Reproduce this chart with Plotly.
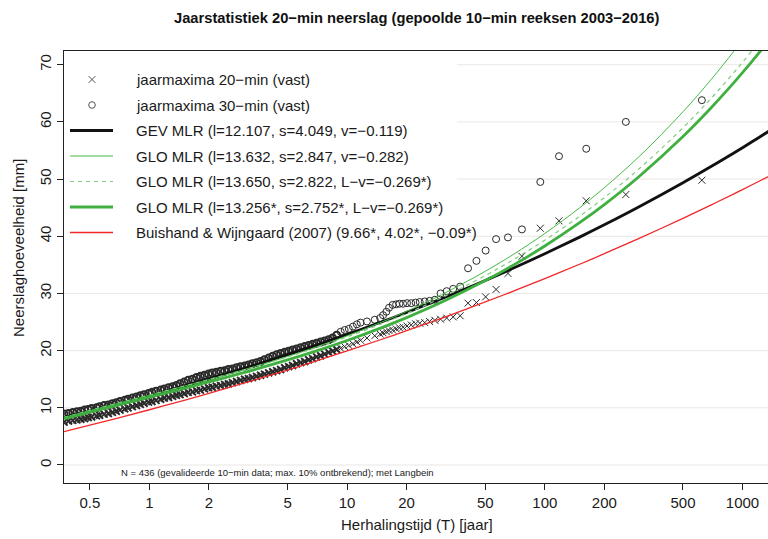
import plotly.graph_objects as go

# ---------------- data ----------------
# return periods (years) of the plotted annual maxima (shared by both series)
T_pts = [0.37, 0.39, 0.41, 0.43, 0.45, 0.47, 0.49, 0.51, 0.54, 0.56,
         0.59, 0.62, 0.65, 0.68, 0.71, 0.75, 0.78, 0.82, 0.86, 0.90,
         0.94, 0.99, 1.03, 1.08, 1.14, 1.19, 1.25, 1.31, 1.37, 1.43,
         1.50, 1.57, 1.65, 1.73, 1.81, 1.90, 1.99, 2.08, 2.18, 2.29,
         2.40, 2.51, 2.63, 2.76, 2.89, 3.03, 3.17, 3.32, 3.48, 3.65,
         3.82, 4.01, 4.20, 4.40, 4.61, 4.83, 5.06, 5.30, 5.55, 5.82,
         6.10, 6.39, 6.69, 7.01, 7.35, 7.70, 8.07, 8.45, 8.86, 9.28,
         9.72, 10.2, 10.7, 11.2, 11.7,
         12.6, 13.8, 14.7, 15.2, 15.8, 16.3, 17.0, 17.7, 18.4, 19.2,
         20.1, 21.1, 22.2, 23.3, 24.7, 26.1, 27.8, 29.7, 31.9, 34.4,
         37.3, 40.9, 45.1, 50.2, 56.7, 65.1, 76.6, 94.9, 118, 162,
         257, 623]

y20 = [7.5, 7.7, 7.8, 7.9, 8.0, 8.1, 8.3, 8.4, 8.6, 8.7,
       8.9, 9.0, 9.2, 9.4, 9.6, 9.8, 10.0, 10.2, 10.4, 10.6,
       10.8, 11.0, 11.1, 11.3, 11.5, 11.7, 11.8, 12.0, 12.2, 12.3,
       12.5, 12.7, 12.8, 13.0, 13.1, 13.3, 13.5, 13.6, 13.8, 13.9,
       14.1, 14.2, 14.4, 14.6, 14.8, 15.0, 15.1, 15.3, 15.5, 15.7,
       15.9, 16.1, 16.3, 16.5, 16.7, 17.0, 17.2, 17.4, 17.7, 17.9,
       18.1, 18.4, 18.6, 18.9, 19.1, 19.4, 19.7, 19.9, 20.2, 20.4,
       20.7, 20.9, 21.2, 21.5, 21.8,
       22.2, 22.6, 22.9, 23.1, 23.3, 23.5, 23.6, 23.8, 24.0, 24.1,
       24.3, 24.5, 24.7, 24.8, 24.9, 25.1, 25.3, 25.5, 25.7, 25.9,
       26.1, 28.3, 28.4, 29.4, 30.7, 33.5, 36.5, 41.4, 42.7, 46.2,
       47.3, 49.8]

y30 = [8.9, 9.0, 9.2, 9.3, 9.4, 9.6, 9.7, 9.9, 10.0, 10.2,
       10.4, 10.5, 10.7, 10.9, 11.1, 11.3, 11.5, 11.7, 11.9, 12.1,
       12.3, 12.5, 12.7, 12.9, 13.1, 13.3, 13.5, 13.7, 13.9, 14.2,
       14.5, 14.8, 15.0, 15.3, 15.5, 15.7, 15.9, 16.1, 16.2, 16.4,
       16.5, 16.7, 16.8, 17.0, 17.2, 17.3, 17.5, 17.7, 17.9, 18.1,
       18.4, 18.7, 19.0, 19.3, 19.5, 19.7, 19.9, 20.1, 20.3, 20.5,
       20.7, 20.9, 21.1, 21.3, 21.5, 21.7, 21.9, 22.2, 22.7, 23.3,
       23.6, 23.8, 24.2, 24.6, 24.9,
       25.1, 25.4, 25.7, 26.2, 26.8, 27.5, 28.0, 28.1, 28.2, 28.2,
       28.3, 28.3, 28.4, 28.5, 28.6, 28.7, 28.9, 30.0, 30.4, 30.8,
       31.2, 34.4, 35.7, 37.5, 39.5, 39.8, 41.2, 49.5, 54.0, 55.3,
       60.0, 63.8]

# fitted curves, read at these return periods
T_curve = [0.37, 0.5, 0.7, 1, 1.5, 2, 3, 5, 7, 10, 15, 20, 30, 50, 70,
           100, 150, 200, 300, 500, 700, 900, 1000, 1200, 1400]
gev  = [8.31, 9.41, 10.69, 12.11, 13.79, 15.03, 16.86, 19.29, 20.97, 22.83, 25.04, 26.68, 29.08, 32.27, 34.49,
        36.94, 39.85, 42.00, 45.16, 49.36, 52.28, 54.53, 55.49, 57.19, 58.66]
glo1 = [8.34, 9.52, 10.83, 12.20, 13.79, 14.94, 16.65, 18.98, 20.66, 22.59, 25.00, 26.87, 29.76, 33.88, 36.92,
        40.48, 44.97, 48.49, 53.94, 61.77, 67.57, 72.27, 74.35, 78.08, 81.39]
glo2 = [8.33, 9.53, 10.85, 12.23, 13.80, 14.95, 16.62, 18.90, 20.53, 22.39, 24.70, 26.49, 29.23, 33.13, 35.99,
        39.32, 43.50, 46.76, 51.80, 58.97, 64.26, 68.54, 70.42, 73.80, 76.80]
glo3 = [8.06, 9.24, 10.52, 11.87, 13.40, 14.52, 16.15, 18.37, 19.96, 21.78, 24.03, 25.77, 28.45, 32.25, 35.04,
        38.29, 42.37, 45.54, 50.46, 57.45, 62.61, 66.78, 68.61, 71.91, 74.83]
bw   = [5.84, 6.96, 8.25, 9.66, 11.32, 12.53, 14.30, 16.61, 18.20, 19.95, 21.99, 23.48, 25.65, 28.51, 30.46,
        32.60, 35.11, 36.95, 39.63, 43.14, 45.54, 47.38, 48.17, 49.54, 50.72]

x_tickvals = [0.5, 1, 2, 5, 10, 20, 50, 100, 200, 500, 1000]
x_ticktext = ["0.5", "1", "2", "5", "10", "20", "50", "100", "200", "500", "1000"]
y_tickvals = [0, 10, 20, 30, 40, 50, 60, 70]

legend_labels = [
    "jaarmaxima 20\u2212min (vast)",
    "jaarmaxima 30\u2212min (vast)",
    "GEV MLR (l=12.107, s=4.049, v=\u22120.119)",
    "GLO MLR (l=13.632, s=2.847, v=\u22120.282)",
    "GLO MLR (l=13.650, s=2.822, L\u2212v=\u22120.269*)",
    "GLO MLR (l=13.256*, s=2.752*, L\u2212v=\u22120.269*)",
    "Buishand & Wijngaard (2007) (9.66*, 4.02*, \u22120.09*)",
]

# ---------------- style ----------------
FONT = "Liberation Sans, Arial, Helvetica, sans-serif"
BLACK = "#111111"
PT = "#2a2a2a"
GREEN = "#3fb03f"
GREEN_T = "#44bb44"
GREEN_D = "#7fcc7f"
RED = "#f0282a"
GRID = "#ebe7e4"
DASH = "4px,4px"

W, H = 768, 539
L, R, TOP, BOT = 64, 0, 51, 56
PW, PH = W - L - R, H - TOP - BOT


def px(xp):
    return (xp - L) / PW


def py(yp):
    return (H - BOT - yp) / PH


# heavier strokes where the points are packed densely (style only)
lw20 = [1.9 if t < 9 else 1.0 for t in T_pts]
lw30 = [2.0 if t < 9 else 1.0 for t in T_pts]

fig = go.Figure()

# points
fig.add_trace(go.Scatter(x=T_pts, y=y20, mode="markers", showlegend=False,
                         marker=dict(symbol="x-thin-open", size=7, color=PT,
                                     line=dict(width=lw20, color=PT))))
fig.add_trace(go.Scatter(x=T_pts, y=y30, mode="markers", showlegend=False,
                         marker=dict(symbol="circle-open", size=7, color=PT,
                                     line=dict(width=lw30, color=PT))))
# curves
fig.add_trace(go.Scatter(x=T_curve, y=gev, mode="lines", showlegend=False, line_shape="spline",
                         line=dict(color=BLACK, width=2.8)))
fig.add_trace(go.Scatter(x=T_curve, y=glo1, mode="lines", showlegend=False, line_shape="spline",
                         line=dict(color=GREEN_T, width=1)))
fig.add_trace(go.Scatter(x=T_curve, y=glo2, mode="lines", showlegend=False, line_shape="spline",
                         line=dict(color=GREEN_D, width=1.2, dash=DASH)))
fig.add_trace(go.Scatter(x=T_curve, y=glo3, mode="lines", showlegend=False, line_shape="spline",
                         line=dict(color=GREEN, width=2.8)))
fig.add_trace(go.Scatter(x=T_curve, y=bw, mode="lines", showlegend=False, line_shape="spline",
                         line=dict(color=RED, width=1.3)))

shapes = []
# faint horizontal grid (not behind the legend block)
for gv in y_tickvals:
    x0 = 0 if gv <= 30 else px(457)
    shapes.append(dict(type="line", xref="paper", yref="y", x0=x0, x1=1, y0=gv, y1=gv,
                       line=dict(color=GRID, width=1), layer="below"))

# ---------------- hand-drawn legend ----------------
rows = [79.5, 105, 130.5, 156, 181.5, 207, 232.5]
cx = 92
shapes.append(dict(type="line", xref="paper", yref="paper", x0=px(cx - 3.3), x1=px(cx + 3.3),
                   y0=py(rows[0] - 3.3), y1=py(rows[0] + 3.3), line=dict(color="#555", width=1)))
shapes.append(dict(type="line", xref="paper", yref="paper", x0=px(cx - 3.3), x1=px(cx + 3.3),
                   y0=py(rows[0] + 3.3), y1=py(rows[0] - 3.3), line=dict(color="#555", width=1)))
shapes.append(dict(type="circle", xref="paper", yref="paper", x0=px(cx - 3.3), x1=px(cx + 3.3),
                   y0=py(rows[1] - 3.3), y1=py(rows[1] + 3.3), line=dict(color="#555", width=1)))
samples = [(BLACK, 2.8, "solid"), (GREEN_T, 1, "solid"), (GREEN_D, 1.2, DASH),
           (GREEN, 2.8, "solid"), (RED, 1.3, "solid")]
for (c, w, d), r in zip(samples, rows[2:]):
    shapes.append(dict(type="line", xref="paper", yref="paper", x0=px(70), x1=px(113),
                       y0=py(r), y1=py(r), line=dict(color=c, width=w, dash=d)))

annotations = []
for lab, r in zip(legend_labels, rows):
    annotations.append(dict(x=px(134), y=py(r), xref="paper", yref="paper", text=lab,
                            showarrow=False, xanchor="left", yanchor="middle",
                            font=dict(family=FONT, size=15, color="#1a1a1a")))

annotations += [
    dict(x=px(416), y=py(18), xref="paper", yref="paper",
         text="<b>Jaarstatistiek 20\u2212min neerslag (gepoolde 10\u2212min reeksen 2003\u22122016)</b>",
         showarrow=False, xanchor="center", yanchor="middle",
         font=dict(family=FONT, size=14.7, color="#111111")),
    dict(x=px(417), y=py(524), xref="paper", yref="paper", text="Herhalingstijd (T) [jaar]",
         showarrow=False, xanchor="center", yanchor="middle",
         font=dict(family=FONT, size=15, color="#1a1a1a")),
    dict(x=px(18), y=py(248), xref="paper", yref="paper", text="Neerslaghoeveelheid [mm]",
         showarrow=False, xanchor="center", yanchor="middle", textangle=-90,
         font=dict(family=FONT, size=15, color="#1a1a1a")),
    dict(x=px(119), y=py(472), xref="paper", yref="paper",
         text="N = 436 (gevalideerde 10\u2212min data; max. 10% ontbrekend); met Langbein",
         showarrow=False, xanchor="left", yanchor="middle",
         font=dict(family=FONT, size=9.5, color="#1a1a1a")),
]

fig.update_layout(
    width=W, height=H,
    margin=dict(l=L, r=R, t=TOP, b=BOT, pad=0, autoexpand=False),
    paper_bgcolor="white", plot_bgcolor="white",
    showlegend=False,
    annotations=annotations,
    shapes=shapes,
    xaxis=dict(type="log", range=[-0.432, 3.129], tickvals=x_tickvals, ticktext=x_ticktext,
               ticks="outside", ticklen=6, tickcolor="#222", showgrid=False, zeroline=False,
               showline=True, linecolor="#222", linewidth=1, mirror=True, automargin=False,
               tickfont=dict(family=FONT, size=15, color="#1a1a1a")),
    yaxis=dict(range=[-3.15, 72.40], tickvals=y_tickvals, tickangle=-90,
               ticks="outside", ticklen=6, tickcolor="#222",
               showgrid=False, zeroline=False, automargin=False,
               showline=True, linecolor="#222", linewidth=1, mirror=True,
               tickfont=dict(family=FONT, size=15, color="#1a1a1a")),
)

fig.write_html("out.html", config={"displayModeBar": False},
               post_script="document.body.style.margin='0px';document.body.style.overflow='hidden';")
